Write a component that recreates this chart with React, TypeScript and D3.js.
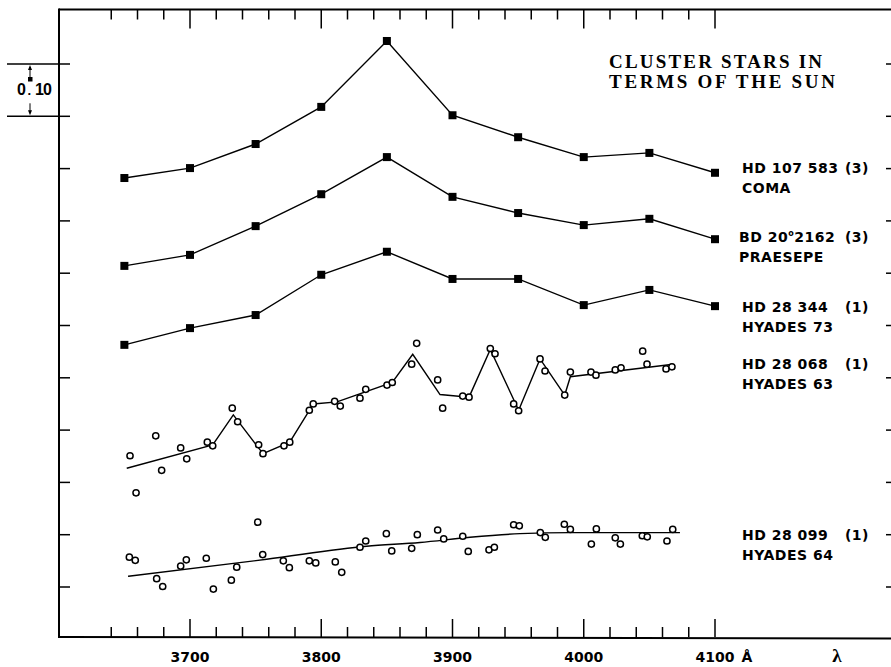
import React from "react";
import * as d3 from "d3";

// Wavelengths (Å) of the filled-square series
const WAVES = [3650, 3700, 3750, 3800, 3850, 3900, 3950, 4000, 4050, 4100];
// Relative magnitudes (arbitrary zero, 0.10 mag per tick)
const comaValues = [0.782, 0.801, 0.847, 0.918, 1.044, 0.902, 0.86, 0.822, 0.83, 0.792];
const praesepeValues = [0.614, 0.635, 0.69, 0.751, 0.822, 0.746, 0.715, 0.692, 0.704, 0.665];
const hyades73Values = [0.463, 0.495, 0.52, 0.597, 0.641, 0.589, 0.589, 0.539, 0.568, 0.537];

// HD 28 068 (Hyades 63) points [wavelength, mag]
const hyades63Points: [number, number][] = [
  [3654.3, 0.251], [3658.9, 0.18], [3673.9, 0.289], [3678.4, 0.223], [3692.9, 0.266],
  [3697.5, 0.245], [3713.2, 0.277], [3717.3, 0.27], [3732.2, 0.342], [3736.3, 0.316],
  [3752.3, 0.272], [3755.6, 0.255], [3771.6, 0.27], [3776.0, 0.277], [3790.9, 0.338],
  [3793.9, 0.35], [3810.2, 0.355], [3814.5, 0.346], [3829.5, 0.361], [3833.9, 0.378],
  [3850.1, 0.386], [3854.1, 0.391], [3868.9, 0.426], [3872.7, 0.466], [3888.7, 0.396],
  [3892.5, 0.342], [3907.8, 0.365], [3912.6, 0.363], [3928.8, 0.456], [3932.4, 0.446],
  [3946.6, 0.35], [3950.4, 0.337], [3966.7, 0.436], [3970.5, 0.413], [3985.5, 0.367],
  [3989.8, 0.411], [4005.5, 0.411], [4009.3, 0.405], [4024.0, 0.415], [4028.4, 0.419],
  [4044.9, 0.451], [4048.2, 0.426], [4062.7, 0.417], [4067.2, 0.421],
];
const hyades63Line: [number, number][] = [
  [3651.8, 0.227], [3717.3, 0.2715], [3733.0, 0.329], [3755.6, 0.255], [3776.0, 0.277],
  [3794.0, 0.35], [3812.0, 0.354], [3854.1, 0.391], [3869.7, 0.445], [3890.5, 0.368],
  [3912.6, 0.363], [3928.8, 0.454], [3950.4, 0.338], [3966.7, 0.436], [3985.5, 0.367],
  [3989.8, 0.402], [4068.2, 0.426],
];

// HD 28 099 (Hyades 64) points
const hyades64Points: [number, number][] = [
  [3653.8, 0.057], [3658.3, 0.051], [3674.6, 0.016], [3679.2, 0.001], [3692.9, 0.04],
  [3697.2, 0.052], [3712.4, 0.055], [3717.8, -0.004], [3731.5, 0.013], [3735.6, 0.038],
  [3751.6, 0.124], [3755.4, 0.062], [3771.1, 0.05], [3775.7, 0.037], [3790.9, 0.05],
  [3795.8, 0.046], [3810.7, 0.048], [3815.6, 0.028], [3829.5, 0.076], [3833.9, 0.088],
  [3849.6, 0.102], [3853.7, 0.069], [3868.9, 0.074], [3873.2, 0.1], [3888.7, 0.109],
  [3893.3, 0.092], [3907.8, 0.097], [3912.0, 0.068], [3927.8, 0.071], [3931.9, 0.076],
  [3946.6, 0.119], [3950.9, 0.117], [3966.9, 0.104], [3970.7, 0.095], [3985.2, 0.12],
  [3989.8, 0.11], [4005.8, 0.082], [4009.6, 0.111], [4024.0, 0.094], [4027.9, 0.082],
  [4044.6, 0.098], [4048.4, 0.096], [4063.4, 0.088], [4067.8, 0.11],
];
const hyades64Line: [number, number][] = [
  [3652.8, 0.0205], [3758.4, 0.053], [3834.6, 0.078], [3875.2, 0.085], [3913.3, 0.095],
  [3951.4, 0.102], [3989.5, 0.104], [4073.3, 0.104],
];

const xMajorTicks = [3700, 3800, 3900, 4000, 4100];
const xTickLabels = ["3700", "3800", "3900", "4000", "4100"];
const xMinorTicks = [3640, 3660, 3680, 3720, 3740, 3760, 3780, 3820, 3840, 3860, 3880,
  3920, 3940, 3960, 3980, 4020, 4040, 4060, 4080];
const yTicks = [0, 0.1, 0.2, 0.3, 0.4, 0.5, 0.6, 0.7, 0.8, 0.9, 1.0];

const titleLines = ["CLUSTER STARS IN", "TERMS OF THE SUN"];
const starNames = ["HD 107 583", "BD 20", "HD 28 344", "HD 28 068", "HD 28 099"];
const starCounts = ["(3)", "(3)", "(1)", "(1)", "(1)"];
const clusterNames = ["COMA", "PRAESEPE", "HYADES 73", "HYADES 63", "HYADES 64"];

const W = 891;
const H = 667;
const LEFT = 59;
const TOP = 9.5;
const BOTTOM = 637;

export default function App() {
  const x = d3.scaleLinear().domain([3700, 4100]).range([190, 715]);
  const y = d3.scaleLinear().domain([0, 1]).range([587, 64]);

  const sqLine = d3
    .line<number>()
    .x((_, i) => x(WAVES[i]))
    .y((d) => y(d));
  const ptLine = d3
    .line<[number, number]>()
    .x((d) => x(d[0]))
    .y((d) => y(d[1]));
  const smoothLine = d3
    .line<[number, number]>()
    .x((d) => x(d[0]))
    .y((d) => y(d[1]))
    .curve(d3.curveMonotoneX);

  const squareSeries = [comaValues, praesepeValues, hyades73Values];
  const labelY = [168, 237, 307, 364, 535];
  const sans = "'DejaVu Sans', sans-serif";

  return (
    <svg
      width={W}
      height={H}
      style={{ position: "absolute", left: 0, top: 0, background: "#fff" }}
    >
      <rect x={0} y={0} width={W} height={H} fill="#fff" />
      {/* frame */}
      <g stroke="#000" strokeWidth={2} fill="none">
        <line x1={LEFT} y1={TOP} x2={W} y2={TOP} />
        <line x1={LEFT} y1={TOP - 1} x2={LEFT} y2={BOTTOM + 1} />
        <line x1={LEFT} y1={BOTTOM} x2={W} y2={BOTTOM + 1.5} />
      </g>
      {/* x ticks top and bottom */}
      <g stroke="#000" strokeWidth={1.5}>
        {xMinorTicks.map((t) => (
          <g key={"mi" + t}>
            <line x1={x(t)} x2={x(t)} y1={TOP} y2={TOP + 10} />
            <line x1={x(t)} x2={x(t)} y1={BOTTOM} y2={BOTTOM - 10} />
          </g>
        ))}
        {xMajorTicks.map((t) => (
          <g key={"ma" + t}>
            <line x1={x(t)} x2={x(t)} y1={TOP} y2={TOP + 19} />
            <line x1={x(t)} x2={x(t)} y1={BOTTOM} y2={BOTTOM - 18} />
          </g>
        ))}
      </g>
      {/* y ticks */}
      <g stroke="#000" strokeWidth={1.5}>
        {yTicks.map((t) => (
          <g key={"y" + t}>
            <line x1={LEFT} x2={LEFT + 11} y1={y(t)} y2={y(t)} />
            <line x1={W - 5} x2={W} y1={y(t)} y2={y(t)} />
          </g>
        ))}
        {/* 0.10 mag scale bar */}
        <line x1={7} x2={LEFT} y1={y(1.0)} y2={y(1.0)} />
        <line x1={7} x2={LEFT} y1={y(0.9)} y2={y(0.9)} />
        <line x1={30} x2={30} y1={y(1.0) + 3} y2={y(1.0) + 13} strokeWidth={1} />
        <line x1={30} x2={30} y1={y(0.9) - 3} y2={y(0.9) - 13} strokeWidth={1} />
      </g>
      <path d={`M30,${y(1.0) + 1} l-2,5 l4,0 z`} fill="#000" />
      <path d={`M30,${y(0.9) - 1} l-2,-5 l4,0 z`} fill="#000" />
      <g fontFamily="'Liberation Sans', Arial, sans-serif" fontWeight="bold" fontSize={16}>
        <text x={17} y={95}>0</text>
        <text x={35} y={95} letterSpacing={-1}>10</text>
        <text x={27.5} y={95} fontSize={13}>.</text>
        <rect x={28} y={77} width={4.5} height={4.5} fill="#000" />
      </g>
      {/* x tick labels */}
      <g fontFamily={sans} fontWeight="bold" fontSize={14} textAnchor="middle">
        {xMajorTicks.map((t, i) => (
          <text key={"lbl" + t} x={x(t)} y={662}>
            {xTickLabels[i]}
          </text>
        ))}
        <text x={747} y={662}>Å</text>
      </g>
      <text
        x={837}
        y={662}
        textAnchor="middle"
        fontFamily="'Liberation Serif', serif"
        fontWeight="bold"
        fontSize={19}
      >
        λ
      </text>
      {/* title */}
      <g fontFamily="'Liberation Serif', serif" fontSize={19} fontWeight="bold">
        <text x={609} y={67.5} textLength={213} lengthAdjust="spacing">
          {titleLines[0]}
        </text>
        <text x={609} y={88} textLength={226} lengthAdjust="spacing">
          {titleLines[1]}
        </text>
      </g>
      {/* square series */}
      {squareSeries.map((vals, si) => (
        <g key={"sq" + si}>
          <path d={sqLine(vals) || ""} fill="none" stroke="#000" strokeWidth={1.4} />
          {vals.map((v, i) => (
            <rect
              key={i}
              x={x(WAVES[i]) - 4}
              y={y(v) - 4}
              width={8}
              height={8}
              fill="#000"
            />
          ))}
        </g>
      ))}
      {/* Hyades 63 */}
      <path d={ptLine(hyades63Line) || ""} fill="none" stroke="#000" strokeWidth={1.4} />
      {hyades63Points.map((d, i) => (
        <circle key={"h63" + i} cx={x(d[0])} cy={y(d[1])} r={3.1} fill="#fff" stroke="#000" strokeWidth={1.5} />
      ))}
      {/* Hyades 64 */}
      <path d={smoothLine(hyades64Line) || ""} fill="none" stroke="#000" strokeWidth={1.4} />
      {hyades64Points.map((d, i) => (
        <circle key={"h64" + i} cx={x(d[0])} cy={y(d[1])} r={3.1} fill="#fff" stroke="#000" strokeWidth={1.5} />
      ))}
      {/* star labels */}
      <g fontFamily={sans} fontWeight="bold" fontSize={14} letterSpacing={0.5}>
        {starNames.map((n, i) => (
          <g key={"lab" + i}>
            <text x={i === 1 ? 739 : 742} y={labelY[i] + 5}>
              {n}
              {i === 1 ? (
                <>
                  <tspan fontSize={8} dy={-6}>o</tspan>
                  <tspan dy={6}>2162</tspan>
                </>
              ) : null}
            </text>
            <text x={869} y={labelY[i] + 5} textAnchor="end">
              {starCounts[i]}
            </text>
            <text x={i === 1 ? 739 : 742} y={labelY[i] + 25}>
              {clusterNames[i]}
            </text>
          </g>
        ))}
      </g>
    </svg>
  );
}
